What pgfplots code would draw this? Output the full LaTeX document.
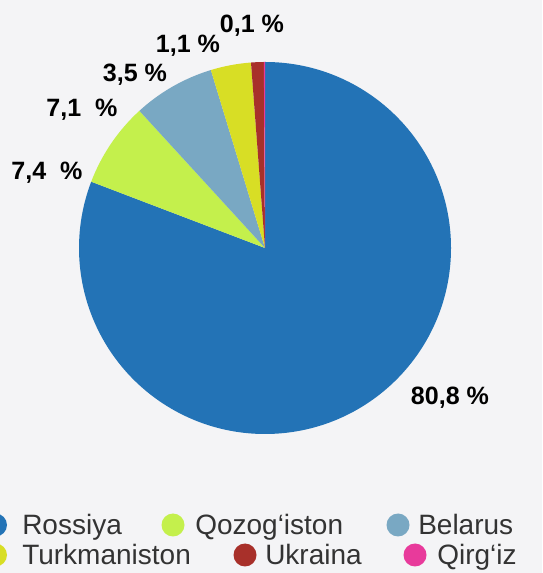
\documentclass[border=0pt]{standalone}
\usepackage{pgfplots}
\pgfplotsset{compat=1.18}
\usepackage{pgfplotstable}
\usepackage{fontspec}
\setmainfont{Liberation Sans}

\definecolor{bgcol}{HTML}{F4F4F6}
\definecolor{txtcol}{HTML}{333333}
\definecolor{cRos}{HTML}{2373B6}
\definecolor{cQoz}{HTML}{C4F04C}
\definecolor{cBel}{HTML}{79A8C3}
\definecolor{cTur}{HTML}{D8DE25}
\definecolor{cUkr}{HTML}{A8302A}
\definecolor{cQir}{HTML}{E83A9B}

% share in percent, clockwise from the top
\pgfplotstableread{
country value colour
Rossiya 80.8 cRos
Qozogiston 7.4 cQoz
Belarus 7.1 cBel
Turkmaniston 3.5 cTur
Ukraina 1.1 cUkr
Qirgiz 0.1 cQir
}\piedata

\begin{document}
\begin{tikzpicture}[x=0.75pt,y=0.75pt]
\fill[bgcol] (0,0) rectangle (542,573);

% pie centre at (265,325) px = (198.75pt,243.75pt)
\begin{axis}[hide axis, anchor=center, at={(198.75pt,243.75pt)},
  x=139.5pt, y=139.5pt,
  xmin=-1.1, xmax=1.1, ymin=-1.1, ymax=1.1, clip=false]
\pgfplotsextra{
  \xdef\cumul{0}
  \foreach \i in {0,...,5}{
    \pgfplotstablegetelem{\i}{value}\of\piedata
    \let\val\pgfplotsretval
    \pgfplotstablegetelem{\i}{colour}\of\piedata
    \let\col\pgfplotsretval
    \pgfmathsetmacro\angA{90-3.6*\cumul}
    \pgfmathsetmacro\angB{90-3.6*(\cumul+\val)}
    \fill[\col] (axis cs:0,0) -- (axis cs:{cos(\angA)},{sin(\angA)})
      arc[start angle=\angA, end angle=\angB, radius=139.5pt] -- cycle;
    \pgfmathsetmacro\newcum{\cumul+\val}
    \xdef\cumul{\newcum}
  }
}
\end{axis}
\useasboundingbox (0,0) rectangle (542,573);

% value labels
\begin{scope}[font=\bfseries\fontsize{18.8}{20}\selectfont, inner sep=0pt]
\node[anchor=base] at (252,540) {0,1 \%};
\node[anchor=base] at (188,520) {1,1 \%};
\node[anchor=base] at (135,491) {3,5 \%};
\node[anchor=base] at (82,456) {7,1\ \ \%};
\node[anchor=base] at (47,393) {7,4\ \ \%};
\node[anchor=base] at (450,168) {80,8 \%};
\end{scope}

% legend
\begin{scope}[font=\fontsize{21}{24}\selectfont, text=txtcol, inner sep=0pt]
\fill[cRos] (-4.5,48) circle[radius=11.5];
\fill[cQoz] (173,48) circle[radius=11.5];
\fill[cBel] (398,48) circle[radius=11.5];
\fill[cTur] (-4.5,18) circle[radius=11.5];
\fill[cUkr] (245,18) circle[radius=11.5];
\fill[cQir] (415,18) circle[radius=11.5];
\node[anchor=base west] at (22,38) {Rossiya};
\node[anchor=base west] at (195,38) {Qozog‘iston};
\node[anchor=base west] at (418,38) {Belarus};
\node[anchor=base west] at (22,8) {Turkmaniston};
\node[anchor=base west] at (265,8) {Ukraina};
\node[anchor=base west] at (437,8) {Qirg‘iz};
\end{scope}
\end{tikzpicture}
\end{document}
